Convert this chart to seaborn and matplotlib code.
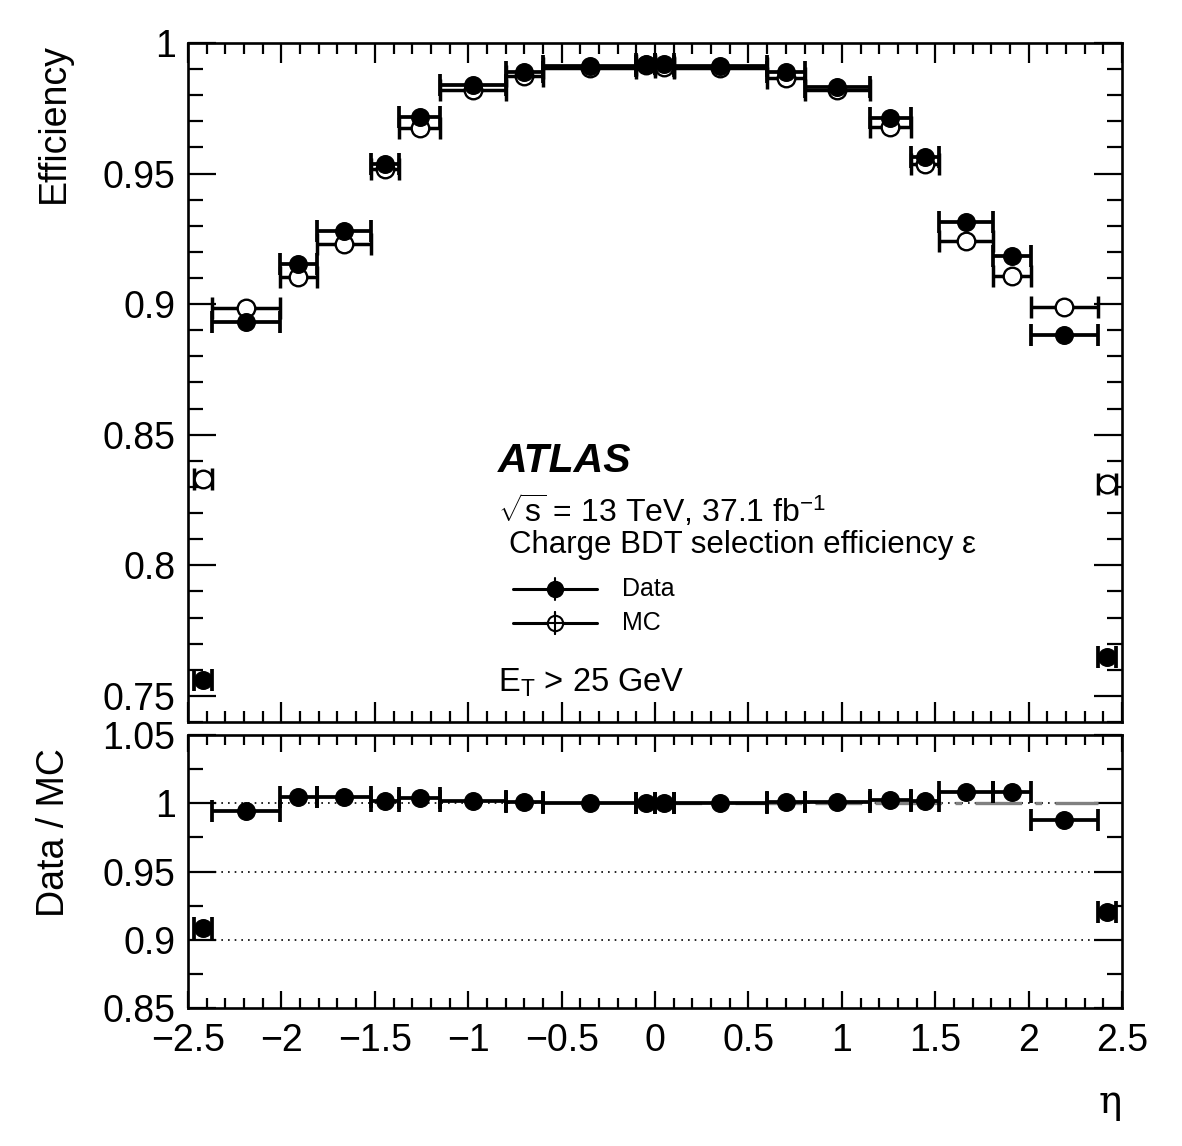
import numpy as np
import matplotlib
matplotlib.use('Agg')
import matplotlib.pyplot as plt
from matplotlib.ticker import MultipleLocator, FuncFormatter
import seaborn as sns

# bin edges in eta
eta_edges = [-2.47, -2.37, -2.01, -1.81, -1.52, -1.37, -1.15, -0.8, -0.6, -0.1, 0.0,
             0.1, 0.6, 0.8, 1.15, 1.37, 1.52, 1.81, 2.01, 2.37, 2.47]

# efficiency
eff_data = [0.756, 0.893, 0.9154, 0.928, 0.9536, 0.9715, 0.984, 0.9887, 0.991, 0.992,
            0.9918, 0.9913, 0.9887, 0.9833, 0.9714, 0.9564, 0.9314, 0.9183, 0.8882, 0.765]
eff_mc = [0.833, 0.8987, 0.9102, 0.9231, 0.9519, 0.9673, 0.982, 0.9872, 0.9905, 0.9915,
          0.9908, 0.9905, 0.9865, 0.982, 0.9679, 0.9538, 0.924, 0.9106, 0.899, 0.8312]
ratio = [0.9085, 0.994, 1.0049, 1.0049, 1.0015, 1.0039, 1.002, 1.0012, 1.0003, 1.0,
         1.0003, 1.0003, 1.0012, 1.0007, 1.0027, 1.0015, 1.008, 1.008, 0.9879, 0.9206]

ratio_ref_lines = [0.9, 0.95, 1.0]

edges = np.array(eta_edges)
eta = (edges[:-1] + edges[1:]) / 2
xerr = (edges[1:] - edges[:-1]) / 2

sns.set_theme(style='ticks', rc={'axes.edgecolor': 'black', 'text.color': 'black',
                                 'axes.labelcolor': 'black', 'xtick.color': 'black',
                                 'ytick.color': 'black'})
plt.rcParams['font.family'] = ['Liberation Sans', 'DejaVu Sans']
plt.rcParams['mathtext.fontset'] = 'custom'
plt.rcParams['mathtext.rm'] = 'Liberation Sans'
plt.rcParams['mathtext.it'] = 'Liberation Sans:italic'

fig = plt.figure(figsize=(11.82, 11.46), dpi=100)
ax1 = fig.add_axes([0.1591, 0.3700, 0.7902, 0.5925])
ax2 = fig.add_axes([0.1591, 0.1204, 0.7902, 0.2382])


def root_fmt(v, pos):
    return f'{round(v, 6):g}'.replace('-', '\u2212')


def style_axis(ax, xmaj, xmin):
    ax.tick_params(which='both', direction='in', top=True, right=True, width=1.6,
                   labelsize=27)
    ax.tick_params(axis='y', which='major', length=20, pad=9)
    ax.tick_params(axis='y', which='minor', length=10.5)
    ax.tick_params(axis='x', which='major', length=xmaj, pad=11)
    ax.tick_params(axis='x', which='minor', length=xmin)
    for sp in ax.spines.values():
        sp.set_linewidth(1.9)
        sp.set_color('black')
    ax.xaxis.set_major_locator(MultipleLocator(0.5))
    ax.xaxis.set_minor_locator(MultipleLocator(0.1))
    ax.xaxis.set_major_formatter(FuncFormatter(root_fmt))
    ax.yaxis.set_major_formatter(FuncFormatter(root_fmt))
    ax.set_xlim(-2.5, 2.5)


# ---- top panel: efficiencies ----
ax1.errorbar(eta, eff_mc, xerr=xerr, fmt='none', ecolor='black', elinewidth=2.5,
             capsize=8, capthick=2.5, zorder=2)
sns.scatterplot(x=eta, y=eff_mc, ax=ax1, marker='o', s=160, color='white',
                edgecolor='black', linewidth=1.7, zorder=3)
ax1.errorbar(eta, eff_data, xerr=xerr, fmt='none', ecolor='black', elinewidth=2.7,
             capsize=8, capthick=2.7, zorder=4)
sns.scatterplot(x=eta, y=eff_data, ax=ax1, marker='o', s=160, color='black',
                edgecolor='black', linewidth=1.0, zorder=5)

style_axis(ax1, 14.4, 8)
ax1.set_ylim(0.74, 1.0)
ax1.yaxis.set_major_locator(MultipleLocator(0.05))
ax1.yaxis.set_minor_locator(MultipleLocator(0.01))
ax1.tick_params(axis='x', labelbottom=False)
ax1.set_ylabel('Efficiency', fontsize=27, loc='top')
ax1.yaxis.set_label_coords(-0.124, 1.0)

# labels
ax1.text(0.332, 0.3686, 'ATLAS', transform=ax1.transAxes, fontsize=29.5,
         fontweight='bold', fontstyle='italic', va='baseline', ha='left')
ax1.text(0.332, 0.295, r'$\sqrt{\mathrm{s}}$ = 13 TeV, 37.1 fb$^{\mathrm{-1}}$',
         transform=ax1.transAxes, fontsize=23, va='baseline', ha='left')
ax1.text(0.3437, 0.2485, 'Charge BDT selection efficiency ε', transform=ax1.transAxes,
         fontsize=22.5, va='baseline', ha='left')
ax1.text(0.332, 0.0446, r'E$_{\mathrm{T}}$ > 25 GeV', transform=ax1.transAxes,
         fontsize=23.5, va='baseline', ha='left')

# legend drawn by hand
leg_x0, leg_x1, leg_xm = (513 - 188) / 934, (597 - 188) / 934, (555 - 188) / 934
for yy, face, lab in [((722 - 589) / 679, 'black', 'Data'),
                      ((722 - 623.3) / 679, 'white', 'MC')]:
    ax1.plot([leg_x0, leg_x1], [yy, yy], color='black', lw=2.2,
             transform=ax1.transAxes, zorder=6)
    ax1.plot([leg_xm, leg_xm], [yy - 0.016, yy + 0.016], color='black', lw=1.5,
             transform=ax1.transAxes, zorder=6)
    ax1.plot([leg_xm], [yy], marker='o', ms=11, mfc=face, mec='black', mew=1.5,
             transform=ax1.transAxes, zorder=7)
    if face == 'white':
        ax1.plot([leg_xm, leg_xm], [yy - 0.016, yy + 0.016], color='black', lw=1.5,
                 transform=ax1.transAxes, zorder=8)
        ax1.plot([leg_xm - 0.012, leg_xm + 0.012], [yy, yy], color='black', lw=1.5,
                 transform=ax1.transAxes, zorder=8)
    ax1.text((621.7 - 188) / 934, yy, lab, transform=ax1.transAxes, fontsize=18,
             va='center', ha='left')

# ---- bottom panel: ratio ----
for yv in ratio_ref_lines:
    ax2.axhline(yv, color='black', lw=1.2, ls=(0, (1, 3)), zorder=1)
ax2.hlines(1.0, 0.0, 2.37, color='0.5', lw=2.4, linestyles=[(0, (14, 4, 2, 4))], zorder=1.5)
ax2.errorbar(eta, ratio, xerr=xerr, fmt='none', ecolor='black', elinewidth=2.7,
             capsize=8, capthick=2.7, zorder=4)
sns.scatterplot(x=eta, y=ratio, ax=ax2, marker='o', s=160, color='black',
                edgecolor='black', linewidth=1.0, zorder=5)

style_axis(ax2, 12, 7)
ax2.set_ylim(0.85, 1.05)
ax2.yaxis.set_major_locator(MultipleLocator(0.05))
ax2.yaxis.set_minor_locator(MultipleLocator(0.025))
ax2.set_ylabel('Data / MC', fontsize=27, loc='top')
ax2.yaxis.set_label_coords(-0.124, 0.952)
ax2.set_xlabel('η', fontsize=28, loc='right', family=['DejaVu Serif'])
ax2.xaxis.set_label_coords(1.0, -0.28)
ax2.xaxis.label.set_va('top')

fig.savefig('out.png', dpi=100)
